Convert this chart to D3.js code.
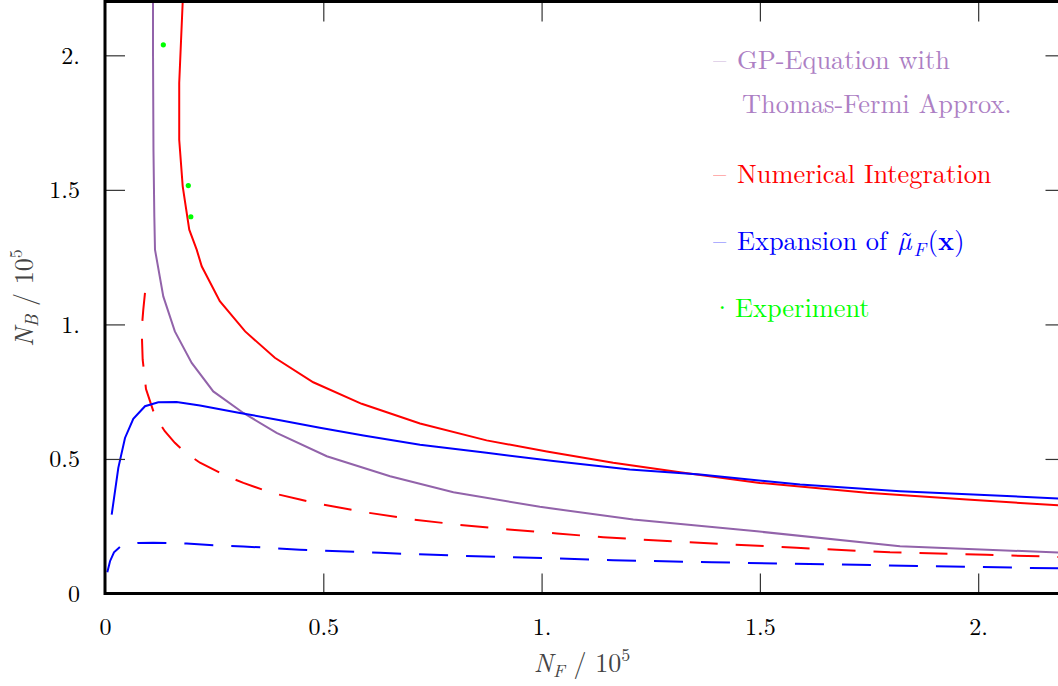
<!DOCTYPE html>
<html lang="en">
<head>
<meta charset="UTF-8">
<title>N_B vs N_F</title>
<script src="https://d3js.org/d3.v7.min.js"></script>
<style>
    body { margin: 0; background: #fff; }
    .tick text { font-size: 24px; fill: #000; }
    .tick line { stroke: #333; stroke-width: 1.2px; }
    .legend text { font-size: 26.4px; }
    .title { font-size: 26px; fill: #444; }
</style>
</head>
<body>
<script>
    // GP-equation with Thomas-Fermi approximation (purple, solid)
    const gpX = [0.110, 0.110, 0.111, 0.113, 0.1145, 0.1335, 0.160, 0.1986, 0.248, 0.317, 0.393, 0.508, 0.653, 0.798, 0.996, 1.210, 1.493, 1.821, 2.2];
    const gpY = [2.25, 2.0, 1.649, 1.400, 1.278, 1.104, 0.974, 0.857, 0.751, 0.671, 0.597, 0.510, 0.436, 0.376, 0.322, 0.275, 0.231, 0.176, 0.151];

    // numerical integration (red, solid)
    const numX = [0.180, 0.178, 0.170, 0.170, 0.178, 0.193, 0.210, 0.2215, 0.263, 0.321, 0.389, 0.477, 0.588, 0.7215, 0.874, 1.012, 1.164, 1.317, 1.500, 1.745, 1.974, 2.2];
    const numY = [2.25, 2.200, 1.897, 1.686, 1.513, 1.352, 1.278, 1.216, 1.086, 0.974, 0.876, 0.785, 0.705, 0.632, 0.569, 0.528, 0.486, 0.451, 0.411, 0.374, 0.349, 0.326];

    // numerical integration (red, dashed)
    const numDX = [0.0916, 0.0877, 0.084, 0.0863, 0.0939, 0.1145, 0.137, 0.160, 0.183, 0.2176, 0.279, 0.317, 0.382, 0.4466, 0.4886, 0.5955, 0.706, 0.813, 0.924, 1.035, 1.141, 1.317, 1.584, 1.798, 2.019, 2.2];
    const numDY = [1.117, 1.055, 0.981, 0.869, 0.760, 0.659, 0.603, 0.560, 0.525, 0.486, 0.436, 0.411, 0.374, 0.349, 0.334, 0.302, 0.275, 0.255, 0.238, 0.223, 0.209, 0.192, 0.170, 0.153, 0.144, 0.135];

    // expansion of mu_F (blue, solid)
    const expX = [0.0153, 0.0305, 0.0458, 0.0648, 0.0916, 0.122, 0.164, 0.2176, 0.309, 0.401, 0.492, 0.592, 0.7215, 0.874, 1.027, 1.202, 1.363, 1.592, 1.821, 2.2];
    const expY = [0.293, 0.467, 0.578, 0.649, 0.696, 0.711, 0.712, 0.699, 0.671, 0.644, 0.616, 0.587, 0.553, 0.523, 0.492, 0.461, 0.442, 0.405, 0.380, 0.352];

    // expansion of mu_F (blue, dashed)
    const expDX = [0.0053, 0.0115, 0.0206, 0.0344, 0.0527, 0.0763, 0.1106, 0.141, 0.187, 0.248, 0.317, 0.4466, 0.630, 0.798, 1.012, 1.164, 1.390, 1.668, 1.974, 2.2];
    const expDY = [0.079, 0.120, 0.153, 0.173, 0.182, 0.188, 0.189, 0.188, 0.186, 0.179, 0.175, 0.163, 0.151, 0.141, 0.131, 0.124, 0.116, 0.108, 0.099, 0.093];

    // experiment (green points)
    const expPtX = [0.1336, 0.1908, 0.1966];
    const expPtY = [2.039, 1.516, 1.400];

    const xTicks = [0, 0.5, 1, 1.5, 2];
    const xTickLabels = ["0", "0.5", "1.", "1.5", "2."];
    const yTicks = [0, 0.5, 1, 1.5, 2];
    const yTickLabels = ["0", "0.5", "1.", "1.5", "2."];

    // a font list did not resolve in the renderer, so a single family is used
    const FONT = "Latin Modern Roman";
    const width = 1058;
    const height = 686;
    const plotL = 105, plotR = 1065.5, plotT = 1.5, plotB = 593.5;

    const x = d3.scaleLinear().domain([0, 2.2]).range([plotL, plotR]);
    const y = d3.scaleLinear().domain([0, 2.2]).range([plotB, plotT]);

    const svg = d3.select("body").append("svg")
        .attr("width", width)
        .attr("height", height)
        .attr("font-family", FONT);

    svg.append("defs").append("clipPath")
        .attr("id", "plot-clip")
        .append("rect")
        .attr("x", plotL)
        .attr("y", plotT)
        .attr("width", plotR - plotL)
        .attr("height", plotB - plotT);

    const zip = (xs, ys) => xs.map((v, i) => [v, ys[i]]);

    const line = d3.line()
        .x(d => x(d[0]))
        .y(d => y(d[1]));

    const series = [
        { pts: zip(gpX, gpY), color: "#9263aa", dash: null },
        { pts: zip(numDX, numDY), color: "#ff0000", dash: "28,18" },
        { pts: zip(expDX, expDY), color: "#0000ff", dash: "29,18" },
        { pts: zip(numX, numY), color: "#ff0000", dash: null },
        { pts: zip(expX, expY), color: "#0000ff", dash: null }
    ];

    const plot = svg.append("g").attr("clip-path", "url(#plot-clip)");

    plot.selectAll("path.curve")
        .data(series)
        .enter().append("path")
        .attr("class", "curve")
        .attr("d", d => line(d.pts))
        .attr("fill", "none")
        .attr("stroke", d => d.color)
        .attr("stroke-width", 2)
        .attr("stroke-dasharray", d => d.dash);

    plot.selectAll("circle.pt")
        .data(zip(expPtX, expPtY))
        .enter().append("circle")
        .attr("class", "pt")
        .attr("cx", d => x(d[0]))
        .attr("cy", d => y(d[1]))
        .attr("r", 2.6)
        .attr("fill", "#00ff00");

    // axes: ticks point inward, labels only on bottom and left
    const fmt = (ticks, labels) => v => labels[ticks.indexOf(v)];

    const gx = svg.append("g")
        .attr("transform", `translate(0,${plotB})`)
        .call(d3.axisBottom(x).tickValues(xTicks).tickFormat(fmt(xTicks, xTickLabels))
            .tickSizeInner(-20).tickSizeOuter(0).tickPadding(24));
    const gy = svg.append("g")
        .attr("transform", `translate(${plotL},0)`)
        .call(d3.axisLeft(y).tickValues(yTicks).tickFormat(fmt(yTicks, yTickLabels))
            .tickSizeInner(-20).tickSizeOuter(0).tickPadding(25));
    const gt = svg.append("g")
        .attr("transform", `translate(0,${plotT})`)
        .call(d3.axisTop(x).tickValues(xTicks.slice(1)).tickFormat("").tickSizeInner(-20).tickSizeOuter(0));
    const gr = svg.append("g")
        .attr("transform", `translate(${plotR},0)`)
        .call(d3.axisRight(y).tickValues(yTicks.slice(1)).tickFormat("").tickSizeInner(-20).tickSizeOuter(0));

    [gx, gy, gt, gr].forEach(g => {
        g.select(".domain").remove();
        g.attr("font-family", FONT).attr("font-size", null);
    });
    gx.select(".tick:first-child line").remove();
    gy.select(".tick:first-child line").remove();

    // frame
    svg.append("rect")
        .attr("x", plotL)
        .attr("y", plotT)
        .attr("width", plotR - plotL)
        .attr("height", plotB - plotT)
        .attr("fill", "none")
        .attr("stroke", "#000")
        .attr("stroke-width", 3);

    // axis titles
    const xTitle = svg.append("text")
        .attr("class", "title")
        .attr("x", 582)
        .attr("y", 672)
        .attr("text-anchor", "middle");
    xTitle.append("tspan").attr("font-style", "italic").text("N");
    xTitle.append("tspan").attr("font-style", "italic").attr("font-size", "18px").attr("dy", 5).text("F");
    xTitle.append("tspan").attr("dy", -5).text(" / 10");
    xTitle.append("tspan").attr("font-size", "18px").attr("dy", -11).text("5");

    const yTitle = svg.append("text")
        .attr("class", "title")
        .attr("transform", "translate(33,298) rotate(-90)")
        .attr("text-anchor", "middle");
    yTitle.append("tspan").attr("font-style", "italic").text("N");
    yTitle.append("tspan").attr("font-style", "italic").attr("font-size", "18px").attr("dy", 5).text("B");
    yTitle.append("tspan").attr("dy", -5).text(" / 10");
    yTitle.append("tspan").attr("font-size", "18px").attr("dy", -11).text("5");

    // legend
    const legend = svg.append("g").attr("class", "legend");

    const legendRows = [
        { mark: "\u2013", color: "#ad7fc4", y: 69, x: 713 },
        { mark: "\u2013", color: "#ff0000", y: 183, x: 713 },
        { mark: "\u2013", color: "#0000ff", y: 250, x: 713 },
        { mark: "\u00b7", color: "#00ff00", y: 317, x: 712 }
    ];
    legendRows.forEach(r => {
        legend.append("text")
            .attr("x", r.x)
            .attr("y", r.y)
            .attr("fill", r.color)
            .attr("opacity", r.mark === "\u00b7" ? 1 : 0.6)
            .text(r.mark);
    });

    legend.append("text").attr("x", 737).attr("y", 69).attr("fill", "#ad7fc4").text("GP-Equation with");
    legend.append("text").attr("x", 742).attr("y", 113).attr("fill", "#ad7fc4").text("Thomas-Fermi Approx.");
    legend.append("text").attr("x", 737).attr("y", 183).attr("fill", "#ff0000").text("Numerical Integration");

    const expLabel = legend.append("text").attr("x", 737).attr("y", 250).attr("fill", "#0000ff");
    expLabel.append("tspan").text("Expansion of ");
    const mu = expLabel.append("tspan").attr("font-style", "italic").attr("dx", 2).text("\u00b5");
    const tilde = expLabel.append("tspan").text("\u02dc");
    const sub = expLabel.append("tspan").attr("font-style", "italic").attr("font-size", "19px").attr("dy", 6).text("F");
    expLabel.append("tspan").attr("dy", -6).attr("dx", 2).text("(");
    expLabel.append("tspan").attr("font-weight", "bold").text("x");
    expLabel.append("tspan").text(")");

    // pull the tilde back over the mu, then step forward again for the subscript
    const muW = mu.node().getComputedTextLength();
    const tW = tilde.node().getComputedTextLength();
    tilde.attr("dx", -(muW + tW) / 2 + 2);
    sub.attr("dx", (muW - tW) / 2);

    legend.append("text").attr("x", 735).attr("y", 317).attr("fill", "#00ff00").text("Experiment");
</script>
</body>
</html>
